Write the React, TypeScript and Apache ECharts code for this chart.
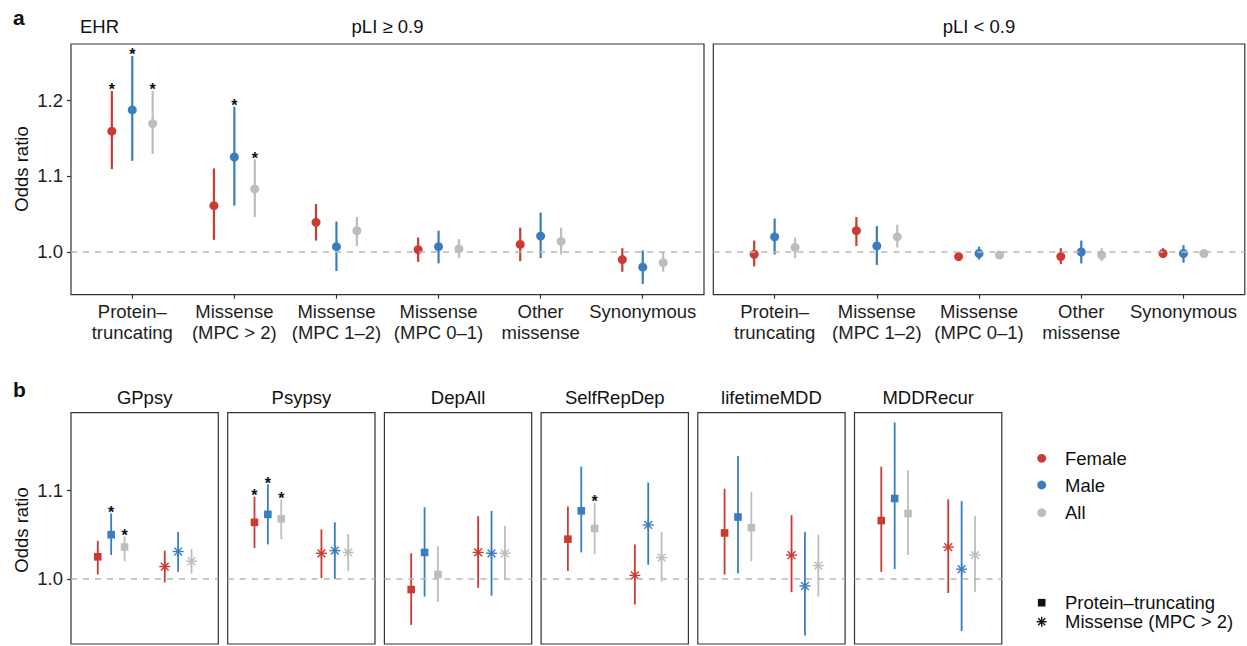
import React, { useEffect, useRef } from "react";
import * as echarts from "echarts";

const FONT = '"Liberation Sans", Arial, Helvetica, sans-serif';
const groupNames = ["Female", "Male", "All"];
const groupColors = ["#CB3B31", "#3A7DBE", "#BDBDBD"];

// ---------- Panel a: EHR ----------
const catsHigh = ["Protein–\ntruncating", "Missense\n(MPC > 2)", "Missense\n(MPC 1–2)", "Missense\n(MPC 0–1)", "Other\nmissense", "Synonymous"];
const catsLow = ["Protein–\ntruncating", "Missense\n(MPC 1–2)", "Missense\n(MPC 0–1)", "Other\nmissense", "Synonymous"];

// [odds ratio, lower, upper]
const highFemale = [[1.159, 1.109, 1.212], [1.061, 1.016, 1.110], [1.039, 1.015, 1.063], [1.003, 0.987, 1.019], [1.010, 0.988, 1.032], [0.990, 0.974, 1.005]];
const highMale = [[1.187, 1.120, 1.258], [1.125, 1.061, 1.191], [1.007, 0.975, 1.040], [1.007, 0.985, 1.028], [1.021, 0.992, 1.052], [0.980, 0.958, 1.002]];
const highAll = [[1.169, 1.129, 1.212], [1.083, 1.046, 1.122], [1.028, 1.008, 1.046], [1.004, 0.992, 1.017], [1.014, 0.997, 1.032], [0.986, 0.974, 1.000]];
const highStarFemale = [1, 0, 0, 0, 0, 0];
const highStarMale = [1, 1, 0, 0, 0, 0];
const highStarAll = [1, 1, 0, 0, 0, 0];

const lowFemale = [[0.997, 0.981, 1.015], [1.028, 1.008, 1.046], [0.994, 0.991, 0.997], [0.994, 0.984, 1.005], [0.998, 0.992, 1.005]];
const lowMale = [[1.020, 0.997, 1.044], [1.008, 0.983, 1.034], [0.998, 0.990, 1.007], [1.000, 0.985, 1.015], [0.998, 0.986, 1.009]];
const lowAll = [[1.006, 0.992, 1.019], [1.020, 1.006, 1.036], [0.996, 0.993, 0.998], [0.996, 0.988, 1.005], [0.998, 0.994, 1.003]];
const lowStars = [0, 0, 0, 0, 0];

const yTicksA = [1.0, 1.1, 1.2];

// ---------- Panel b: cohorts ----------
const traits = ["GPpsy", "Psypsy", "DepAll", "SelfRepDep", "lifetimeMDD", "MDDRecur"];
const variantTypes = ["Protein–truncating", "Missense (MPC > 2)"];
const ptFemale = [[1.025, 1.005, 1.043], [1.064, 1.035, 1.093], [0.988, 0.948, 1.029], [1.045, 1.009, 1.082], [1.052, 1.005, 1.102], [1.066, 1.008, 1.127]];
const ptMale = [[1.050, 1.027, 1.074], [1.073, 1.039, 1.107], [1.030, 0.980, 1.081], [1.077, 1.030, 1.127], [1.070, 1.006, 1.139], [1.091, 1.011, 1.177]];
const ptAll = [[1.036, 1.020, 1.048], [1.068, 1.045, 1.090], [1.005, 0.974, 1.037], [1.057, 1.028, 1.086], [1.058, 1.020, 1.098], [1.074, 1.027, 1.123]];
const misFemale = [[1.014, 0.996, 1.032], [1.029, 1.001, 1.056], [1.030, 0.990, 1.071], [1.004, 0.971, 1.039], [1.027, 0.985, 1.072], [1.036, 0.984, 1.090]];
const misMale = [[1.031, 1.008, 1.053], [1.032, 1.000, 1.064], [1.029, 0.981, 1.077], [1.061, 1.016, 1.109], [0.992, 0.936, 1.053], [1.011, 0.941, 1.088]];
const misAll = [[1.020, 1.006, 1.034], [1.030, 1.009, 1.051], [1.029, 0.999, 1.060], [1.024, 0.997, 1.053], [1.015, 0.980, 1.050], [1.027, 0.985, 1.071]];
const ptStarFemale = [0, 1, 0, 0, 0, 0];
const ptStarMale = [1, 1, 0, 0, 0, 0];
const ptStarAll = [1, 1, 0, 1, 0, 0];
const yTicksB = [1.0, 1.1];

const DODGE = 0.2;

function makeRender(lw: number, r: number) {
  return (params: any, api: any) => {
    const x = api.value(0), y = api.value(1), lo = api.value(2), hi = api.value(3);
    const g = api.value(4), star = api.value(5), shape = api.value(6);
    const c = api.coord([x, y]);
    const cl = api.coord([x, lo]);
    const ch = api.coord([x, hi]);
    const col = groupColors[g];
    const children: any[] = [
      { type: "line", shape: { x1: cl[0], y1: cl[1], x2: ch[0], y2: ch[1] }, style: { stroke: col, lineWidth: lw } },
    ];
    if (shape === 0) {
      children.push({ type: "circle", shape: { cx: c[0], cy: c[1], r }, style: { fill: col } });
    } else if (shape === 1) {
      children.push({ type: "rect", shape: { x: c[0] - r, y: c[1] - r, width: 2 * r, height: 2 * r }, style: { fill: col } });
    } else {
      const R = 5.5;
      [0, 45, 90, 135].forEach((deg) => {
        const a = (deg * Math.PI) / 180;
        const dx = Math.cos(a) * R, dy = Math.sin(a) * R;
        children.push({ type: "line", shape: { x1: c[0] - dx, y1: c[1] - dy, x2: c[0] + dx, y2: c[1] + dy }, style: { stroke: col, lineWidth: 1.4 } });
      });
    }
    if (star) {
      children.push({
        type: "text",
        style: { text: "*", x: ch[0], y: ch[1] - 1, align: "center", verticalAlign: "middle", fontSize: 16, fontWeight: "bold", fontFamily: FONT, fill: "#111" },
      });
    }
    return { type: "group", children };
  };
}

function buildData(groupsData: number[][][], stars: number[][], shape: number, xOf: (i: number) => number) {
  const out: any[] = [];
  groupsData.forEach((arr, g) => {
    arr.forEach((t, i) => {
      out.push([xOf(i) + (g - 1) * DODGE, t[0], t[1], t[2], g, stars[g][i], shape]);
    });
  });
  return out;
}

const dashLine = {
  silent: true,
  symbol: ["none", "none"],
  label: { show: false },
  lineStyle: { type: [6, 6], color: "#B8B8B8", width: 1.5 },
  data: [{ yAxis: 1 }],
};

export default function App() {
  const ref = useRef<HTMLDivElement>(null);
  useEffect(() => {
    if (!ref.current) return;
    const chart = echarts.init(ref.current, null, { renderer: "svg" });

    const grids: any[] = [
      { left: 71, top: 44, width: 633, height: 250.7 },
      { left: 713.3, top: 44, width: 531.5, height: 250.7 },
    ];
    traits.forEach((_, i) => grids.push({ left: 71 + i * 156.7, top: 412.7, width: 147.3, height: 231.3 }));
    grids.forEach((g) => Object.assign(g, { show: true, borderColor: "#333", borderWidth: 1.2, backgroundColor: "transparent", containLabel: false }));

    const xAxes: any[] = [];
    const yAxes: any[] = [];
    const series: any[] = [];

    const axisText = { fontFamily: FONT, fontSize: 18.5, color: "#1e1e1e" };

    [catsHigh, catsLow].forEach((cats, gi) => {
      const ticks = cats.map((_, i) => i + 1);
      xAxes.push({
        type: "value", gridIndex: gi, min: 0.4, max: cats.length + 0.6,
        axisLine: { show: false }, splitLine: { show: false },
        axisTick: { show: true, customValues: ticks, length: 4, lineStyle: { color: "#333", width: 1.2 } },
        axisLabel: { show: true, customValues: ticks, margin: 6, lineHeight: 21, ...axisText, formatter: (v: number) => cats[Math.round(v) - 1] || "" },
      });
      yAxes.push({
        type: "value", gridIndex: gi, min: 0.9438, max: 1.2737,
        axisLine: { show: false }, splitLine: { show: false },
        axisTick: { show: gi === 0, customValues: yTicksA, length: 4, lineStyle: { color: "#333", width: 1.2 } },
        axisLabel: { show: gi === 0, customValues: yTicksA, margin: 8, ...axisText, formatter: (v: number) => v.toFixed(1) },
      });
    });

    series.push({
      type: "custom", xAxisIndex: 0, yAxisIndex: 0, renderItem: makeRender(2.2, 4.5),
      encode: { x: 0, y: 1 },
      data: buildData([highFemale, highMale, highAll], [highStarFemale, highStarMale, highStarAll], 0, (i) => i + 1),
      markLine: dashLine,
    });
    series.push({
      type: "custom", xAxisIndex: 1, yAxisIndex: 1, renderItem: makeRender(2.2, 4.5),
      encode: { x: 0, y: 1 },
      data: buildData([lowFemale, lowMale, lowAll], [lowStars, lowStars, lowStars], 0, (i) => i + 1),
      markLine: dashLine,
    });

    traits.forEach((_, t) => {
      const gi = t + 2;
      xAxes.push({
        type: "value", gridIndex: gi, min: 0.4, max: variantTypes.length + 0.6,
        axisLine: { show: false }, splitLine: { show: false }, axisTick: { show: false }, axisLabel: { show: false },
      });
      yAxes.push({
        type: "value", gridIndex: gi, min: 0.9264, max: 1.188,
        axisLine: { show: false }, splitLine: { show: false },
        axisTick: { show: t === 0, customValues: yTicksB, length: 4, lineStyle: { color: "#333", width: 1.2 } },
        axisLabel: { show: t === 0, customValues: yTicksB, margin: 8, ...axisText, formatter: (v: number) => v.toFixed(1) },
      });
      const pick = (arr: number[][]) => [arr[t]];
      const ptData = buildData([pick(ptFemale), pick(ptMale), pick(ptAll)], [[ptStarFemale[t]], [ptStarMale[t]], [ptStarAll[t]]], 1, () => 1);
      const misData = buildData([pick(misFemale), pick(misMale), pick(misAll)], [[0], [0], [0]], 2, () => 2);
      series.push({
        type: "custom", xAxisIndex: gi, yAxisIndex: gi, renderItem: makeRender(1.8, 3.8),
        encode: { x: 0, y: 1 },
        data: ptData.concat(misData),
        markLine: dashLine,
      });
    });

    const txt = (text: string, x: number, y: number, opts: any = {}) => ({
      type: "text", x, y, silent: true,
      style: { text, fontFamily: FONT, fontSize: 18.5, fill: "#111", align: opts.align || "center", verticalAlign: "middle", fontWeight: opts.bold ? "bold" : "normal", ...(opts.size ? { fontSize: opts.size } : {}) },
      ...(opts.rot ? { rotation: opts.rot } : {}),
    });

    const graphics: any[] = [
      txt("a", 13, 17, { align: "left", bold: true, size: 21 }),
      txt("b", 13, 389, { align: "left", bold: true, size: 21 }),
      txt("EHR", 80, 26.7, { align: "left" }),
      txt("pLI ≥ 0.9", 387.5, 26.7),
      txt("pLI < 0.9", 979, 26.7),
      txt("Odds ratio", 21.7, 169, { rot: Math.PI / 2 }),
      txt("Odds ratio", 21.7, 530, { rot: Math.PI / 2 }),
    ];
    traits.forEach((name, i) => graphics.push(txt(name, 71 + i * 156.7 + 147.3 / 2, 397)));

    // legend
    const legendX = 1041.7;
    const legendY = [458.3, 485, 512.7];
    groupNames.forEach((n, g) => {
      graphics.push({ type: "circle", shape: { cx: legendX, cy: legendY[g], r: 4.4 }, style: { fill: groupColors[g] }, silent: true });
      graphics.push(txt(n, 1065, legendY[g], { align: "left" }));
    });
    graphics.push({ type: "rect", shape: { x: legendX - 3.8, y: 602.7 - 3.8, width: 7.6, height: 7.6 }, style: { fill: "#111" }, silent: true });
    graphics.push(txt(variantTypes[0], 1065, 602.7, { align: "left" }));
    [0, 45, 90, 135].forEach((deg) => {
      const a = (deg * Math.PI) / 180;
      const dx = Math.cos(a) * 5, dy = Math.sin(a) * 5;
      graphics.push({ type: "line", shape: { x1: legendX - dx, y1: 621.7 - dy, x2: legendX + dx, y2: 621.7 + dy }, style: { stroke: "#111", lineWidth: 1.4 }, silent: true });
    });
    graphics.push(txt(variantTypes[1], 1065, 621.7, { align: "left" }));

    chart.setOption({
      animation: false,
      backgroundColor: "#ffffff",
      textStyle: { fontFamily: FONT },
      grid: grids,
      xAxis: xAxes,
      yAxis: yAxes,
      series,
      graphic: graphics,
    });
    return () => chart.dispose();
  }, []);
  return <div ref={ref} style={{ position: "absolute", left: 0, top: 0, width: 1247, height: 646 }} />;
}
